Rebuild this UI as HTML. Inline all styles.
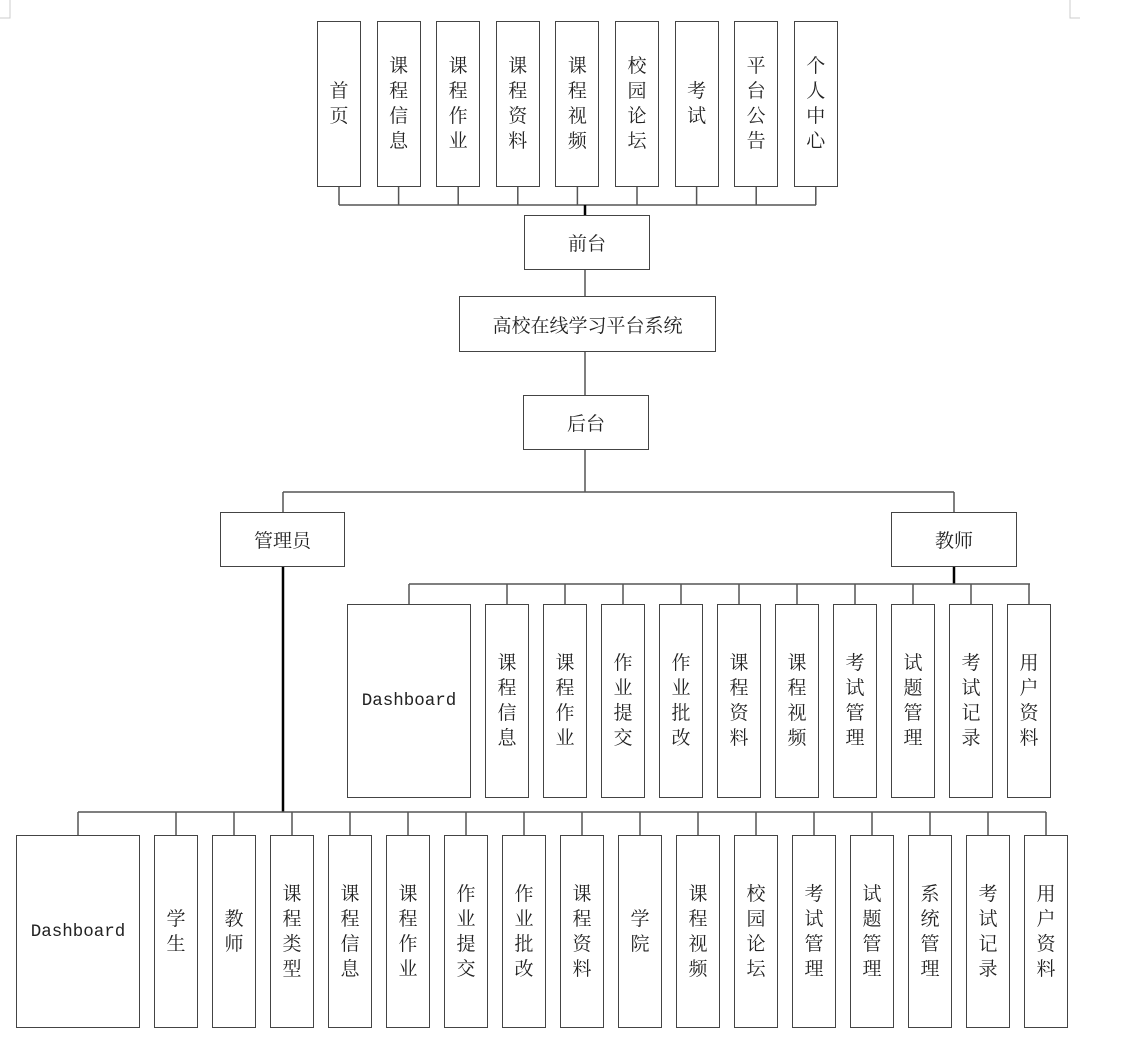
<!DOCTYPE html>
<html><head><meta charset="utf-8"><style>
body{margin:0;width:1132px;height:1038px;background:#fff;position:relative;overflow:hidden;font-family:"Liberation Serif","Noto Serif CJK SC","Noto Sans CJK SC",serif;color:#222}
.b{position:absolute;box-sizing:border-box;border:1.5px solid #444;background:#fff;display:flex;align-items:center;justify-content:center;text-align:center}
.v{font-size:19px;line-height:25px;width:22px;word-break:break-all}
.t{font-size:19px;line-height:26px}
.h{font-size:19px}
.d{font-family:"Liberation Mono",monospace;font-size:17.5px}
svg{position:absolute;left:0;top:0}
</style></head><body>
<svg width="1132" height="1038" fill="none" stroke="#555" stroke-width="1.5">
<path d="M10 0V18H0M1070 0V18H1080" stroke="#ccc" stroke-width="1"/>
<path d="M339 187V205M398.6 187V205M458.2 187V205M517.8 187V205M577.4 187V205M637 187V205M696.6 187V205M756.2 187V205M815.8 187V205M339 205H816"/>
<path d="M585 205V215" stroke="#000" stroke-width="2.5"/>
<path d="M585 270V296M585 352V395M585 450V492M283 492H954M283 492V512M954 492V512"/>
<path d="M283 567V812M954 567V584" stroke="#000" stroke-width="2.5"/>
<path d="M409 584H1030M409 584V604M507 584V604M565 584V604M623 584V604M681 584V604M739 584V604M797 584V604M855 584V604M913 584V604M971 584V604M1029 584V604"/>
<path d="M78 812H1046M78 812V835M176 812V835M234 812V835M292 812V835M350 812V835M408 812V835M466 812V835M524 812V835M582 812V835M640 812V835M698 812V835M756 812V835M814 812V835M872 812V835M930 812V835M988 812V835M1046 812V835"/>
</svg>
<div class="b" style="left:317px;top:21px;width:44px;height:166px"><div class="v">首页</div></div>
<div class="b" style="left:376.6px;top:21px;width:44px;height:166px"><div class="v">课程信息</div></div>
<div class="b" style="left:436.2px;top:21px;width:44px;height:166px"><div class="v">课程作业</div></div>
<div class="b" style="left:495.8px;top:21px;width:44px;height:166px"><div class="v">课程资料</div></div>
<div class="b" style="left:555.4px;top:21px;width:44px;height:166px"><div class="v">课程视频</div></div>
<div class="b" style="left:615px;top:21px;width:44px;height:166px"><div class="v">校园论坛</div></div>
<div class="b" style="left:674.6px;top:21px;width:44px;height:166px"><div class="v">考试</div></div>
<div class="b" style="left:734.2px;top:21px;width:44px;height:166px"><div class="v">平台公告</div></div>
<div class="b" style="left:793.8px;top:21px;width:44px;height:166px"><div class="v">个人中心</div></div>
<div class="b h" style="left:524px;top:215px;width:126px;height:55px">前台</div>
<div class="b h" style="left:459px;top:296px;width:257px;height:56px">高校在线学习平台系统</div>
<div class="b h" style="left:523px;top:395px;width:126px;height:55px">后台</div>
<div class="b h" style="left:220px;top:512px;width:125px;height:55px">管理员</div>
<div class="b h" style="left:891px;top:512px;width:126px;height:55px">教师</div>
<div class="b d" style="left:347px;top:604px;width:124px;height:194px">Dashboard</div>
<div class="b" style="left:485px;top:604px;width:44px;height:194px"><div class="v">课程信息</div></div>
<div class="b" style="left:543px;top:604px;width:44px;height:194px"><div class="v">课程作业</div></div>
<div class="b" style="left:601px;top:604px;width:44px;height:194px"><div class="v">作业提交</div></div>
<div class="b" style="left:659px;top:604px;width:44px;height:194px"><div class="v">作业批改</div></div>
<div class="b" style="left:717px;top:604px;width:44px;height:194px"><div class="v">课程资料</div></div>
<div class="b" style="left:775px;top:604px;width:44px;height:194px"><div class="v">课程视频</div></div>
<div class="b" style="left:833px;top:604px;width:44px;height:194px"><div class="v">考试管理</div></div>
<div class="b" style="left:891px;top:604px;width:44px;height:194px"><div class="v">试题管理</div></div>
<div class="b" style="left:949px;top:604px;width:44px;height:194px"><div class="v">考试记录</div></div>
<div class="b" style="left:1007px;top:604px;width:44px;height:194px"><div class="v">用户资料</div></div>
<div class="b d" style="left:16px;top:835px;width:124px;height:193px">Dashboard</div>
<div class="b" style="left:154px;top:835px;width:44px;height:193px"><div class="v">学生</div></div>
<div class="b" style="left:212px;top:835px;width:44px;height:193px"><div class="v">教师</div></div>
<div class="b" style="left:270px;top:835px;width:44px;height:193px"><div class="v">课程类型</div></div>
<div class="b" style="left:328px;top:835px;width:44px;height:193px"><div class="v">课程信息</div></div>
<div class="b" style="left:386px;top:835px;width:44px;height:193px"><div class="v">课程作业</div></div>
<div class="b" style="left:444px;top:835px;width:44px;height:193px"><div class="v">作业提交</div></div>
<div class="b" style="left:502px;top:835px;width:44px;height:193px"><div class="v">作业批改</div></div>
<div class="b" style="left:560px;top:835px;width:44px;height:193px"><div class="v">课程资料</div></div>
<div class="b" style="left:618px;top:835px;width:44px;height:193px"><div class="v">学院</div></div>
<div class="b" style="left:676px;top:835px;width:44px;height:193px"><div class="v">课程视频</div></div>
<div class="b" style="left:734px;top:835px;width:44px;height:193px"><div class="v">校园论坛</div></div>
<div class="b" style="left:792px;top:835px;width:44px;height:193px"><div class="v">考试管理</div></div>
<div class="b" style="left:850px;top:835px;width:44px;height:193px"><div class="v">试题管理</div></div>
<div class="b" style="left:908px;top:835px;width:44px;height:193px"><div class="v">系统管理</div></div>
<div class="b" style="left:966px;top:835px;width:44px;height:193px"><div class="v">考试记录</div></div>
<div class="b" style="left:1024px;top:835px;width:44px;height:193px"><div class="v">用户资料</div></div>
</body></html>
